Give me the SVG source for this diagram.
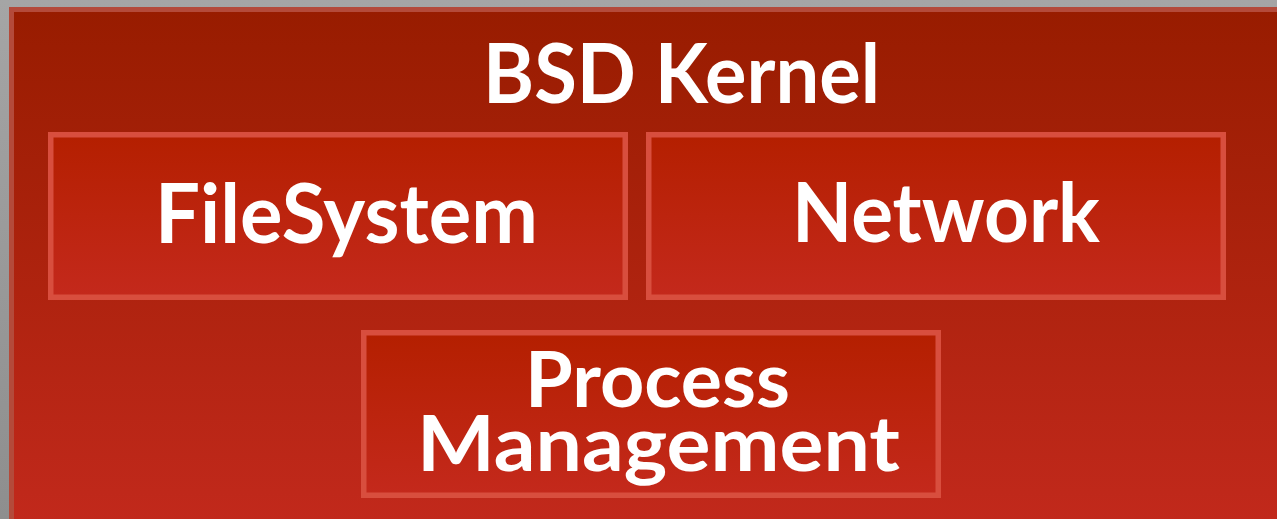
<svg xmlns="http://www.w3.org/2000/svg" width="1277" height="519" viewBox="0 0 1277 519">
  <defs>
    <linearGradient id="bgGrey" x1="0" y1="0" x2="0" y2="1">
      <stop offset="0" stop-color="#a5a5a5"/>
      <stop offset="1" stop-color="#8e8e8e"/>
    </linearGradient>
    <linearGradient id="outerFill" x1="0" y1="0" x2="0" y2="1">
      <stop offset="0" stop-color="#981c00"/>
      <stop offset="1" stop-color="#c2291c"/>
    </linearGradient>
    <linearGradient id="boxFill" x1="0" y1="0" x2="0" y2="1">
      <stop offset="0" stop-color="#b41f00"/>
      <stop offset="1" stop-color="#c4291c"/>
    </linearGradient>
  </defs>
  <style>
    .box { fill: url(#boxFill); stroke: #d84e3e; stroke-width: 5.5; }
    .lbl { font-family: Lato, "Open Sans", "Liberation Sans", sans-serif; font-weight: bold; fill: #ffffff; text-anchor: middle; }
  </style>
  <rect x="0" y="0" width="1277" height="519" fill="url(#bgGrey)"/>
  <g id="bsd-kernel">
    <rect x="11.5" y="9.5" width="1280" height="520" fill="url(#outerFill)" stroke="#b44a3a" stroke-width="5"/>
    <text class="lbl" x="681.5" y="102.5" font-size="82" textLength="397" lengthAdjust="spacingAndGlyphs">BSD Kernel</text>
  </g>
  <g id="filesystem">
    <rect class="box" x="50.75" y="134.75" width="574.5" height="162.5"/>
    <text class="lbl" x="346.5" y="242.5" font-size="82" textLength="383" lengthAdjust="spacingAndGlyphs">FileSystem</text>
  </g>
  <g id="network">
    <rect class="box" x="648.75" y="134.75" width="574.5" height="162.5"/>
    <text class="lbl" x="946" y="242" font-size="82" textLength="308" lengthAdjust="spacingAndGlyphs">Network</text>
  </g>
  <g id="process-management">
    <rect class="box" x="363.75" y="332.75" width="574.5" height="162.5"/>
    <text class="lbl" x="657.5" y="406.5" font-size="76" textLength="265" lengthAdjust="spacingAndGlyphs">Process</text>
    <text class="lbl" x="658.5" y="471" font-size="76" textLength="483" lengthAdjust="spacingAndGlyphs">Management</text>
  </g>
  <g id="connectors"/>
</svg>
